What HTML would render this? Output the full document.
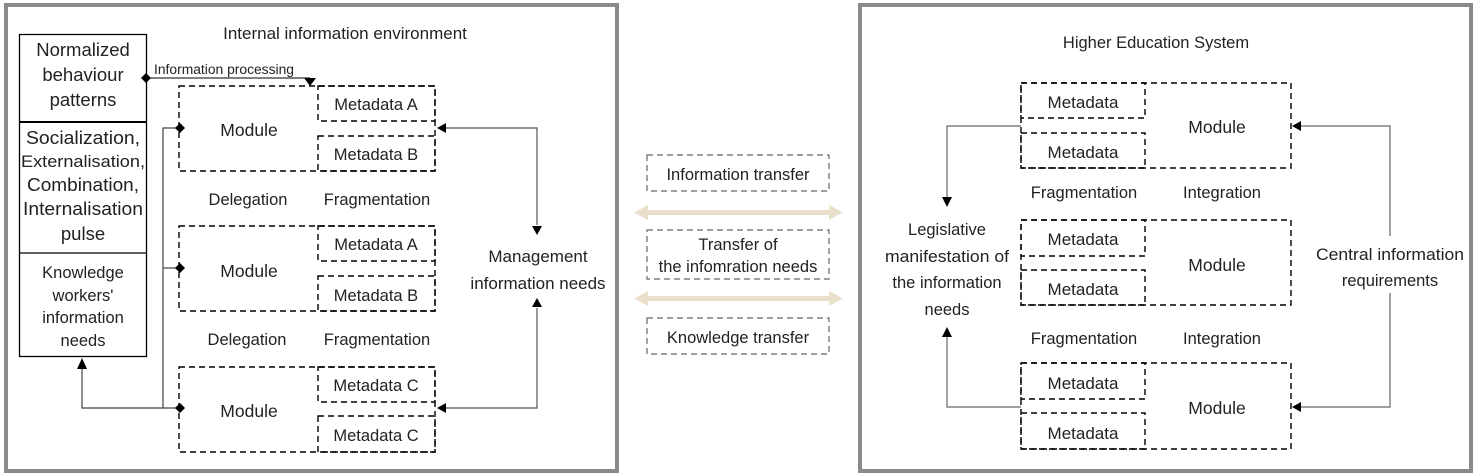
<!DOCTYPE html>
<html><head><meta charset="utf-8"><style>
html,body{margin:0;padding:0;background:#fff;}
svg{display:block;font-family:"Liberation Sans",sans-serif;}
</style></head><body>
<svg width="1474" height="474" viewBox="0 0 1474 474" xmlns="http://www.w3.org/2000/svg">
<rect width="1474" height="474" fill="#fff"/>
<rect x="6" y="5" width="611" height="466" fill="none" stroke="#8a8a8a" stroke-width="4"/>
<rect x="860" y="5" width="611" height="466" fill="none" stroke="#8a8a8a" stroke-width="4"/>

<g fill="#222" text-anchor="middle">
<!-- LEFT PANEL -->
<text x="345" y="39" font-size="17">Internal information environment</text>
<rect x="19.5" y="34.5" width="127" height="322" fill="none" stroke="#000" stroke-width="1.3"/>
<line x1="19" y1="122" x2="147" y2="122" stroke="#000" stroke-width="2"/>
<line x1="19" y1="253" x2="147" y2="253" stroke="#000" stroke-width="1.3"/>
<text x="83" y="56" font-size="18.5">Normalized</text>
<text x="83" y="81" font-size="18.5">behaviour</text>
<text x="83" y="106" font-size="18.5">patterns</text>
<text x="83" y="144" font-size="18.5" textLength="114" lengthAdjust="spacingAndGlyphs">Socialization,</text>
<text x="83" y="167" font-size="16.5" textLength="124" lengthAdjust="spacingAndGlyphs">Externalisation,</text>
<text x="83" y="191" font-size="18.5" textLength="112" lengthAdjust="spacingAndGlyphs">Combination,</text>
<text x="83" y="215" font-size="18.5" textLength="120" lengthAdjust="spacingAndGlyphs">Internalisation</text>
<text x="83" y="240" font-size="18.5">pulse</text>
<text x="83" y="278" font-size="16.5">Knowledge</text>
<text x="83" y="301" font-size="16.5">workers'</text>
<text x="83" y="323" font-size="16.5">information</text>
<text x="83" y="346" font-size="16.5">needs</text>

<line x1="147" y1="78" x2="310" y2="78" stroke="#000" stroke-width="1"/>
<path d="M141,78 L146,73 L151,78 L146,83z" fill="#000"/>
<path d="M304,78 L316,78 L310,86z" fill="#000"/>
<text x="224" y="74" font-size="13.5" textLength="140" lengthAdjust="spacingAndGlyphs">Information processing</text>

<g fill="none" stroke="#000" stroke-width="1.4" stroke-dasharray="6,4">
<rect x="179" y="86" width="256" height="85"/>
<rect x="318" y="86" width="117" height="35"/>
<rect x="318" y="136" width="117" height="35"/>
<rect x="179" y="226" width="256" height="85"/>
<rect x="318" y="226" width="117" height="35"/>
<rect x="318" y="276" width="117" height="35"/>
<rect x="179" y="367" width="256" height="85"/>
<rect x="318" y="367" width="117" height="35"/>
<rect x="318" y="416" width="117" height="36"/>
</g>
<text x="249" y="136" font-size="17.5">Module</text>
<text x="376" y="110" font-size="16.5">Metadata A</text>
<text x="376" y="160" font-size="16.5">Metadata B</text>
<text x="249" y="277" font-size="17.5">Module</text>
<text x="376" y="250" font-size="16.5">Metadata A</text>
<text x="376" y="301" font-size="16.5">Metadata B</text>
<text x="249" y="417" font-size="17.5">Module</text>
<text x="376" y="391" font-size="16.5">Metadata C</text>
<text x="376" y="441" font-size="16.5">Metadata C</text>
<text x="248" y="205" font-size="16.5">Delegation</text>
<text x="377" y="205" font-size="16.5">Fragmentation</text>
<text x="247" y="345" font-size="16.5">Delegation</text>
<text x="377" y="345" font-size="16.5">Fragmentation</text>

<g stroke="#444" stroke-width="1.2" fill="none">
<polyline points="179,128 163,128 163,408 179,408"/>
<line x1="163" y1="268" x2="179" y2="268"/>
<polyline points="163,408 82,408 82,360"/>
</g>
<path d="M77,369 L87,369 L82,358z" fill="#000"/>
<path d="M175,128 L180,123 L185,128 L180,133z" fill="#000"/>
<path d="M175,268 L180,263 L185,268 L180,273z" fill="#000"/>
<path d="M175,408 L180,403 L185,408 L180,413z" fill="#000"/>

<g stroke="#555" stroke-width="1.2" fill="none">
<polyline points="440,128 537,128 537,225"/>
<polyline points="537,308 537,408 440,408"/>
</g>
<path d="M437,128 L446,123 L446,133z" fill="#000"/>
<path d="M437,408 L446,403 L446,413z" fill="#000"/>
<path d="M532,226 L542,226 L537,235z" fill="#000"/>
<path d="M532,307 L542,307 L537,298z" fill="#000"/>
<text x="538" y="262" font-size="17">Management</text>
<text x="538" y="289" font-size="17">information needs</text>

<!-- MIDDLE -->
<g fill="none" stroke="#666" stroke-width="1.2" stroke-dasharray="6,4">
<rect x="647" y="155" width="182" height="36"/>
<rect x="647" y="230" width="182" height="49"/>
<rect x="647" y="318" width="182" height="36"/>
</g>
<text x="738" y="180" font-size="16.5">Information transfer</text>
<text x="738" y="250" font-size="16.5">Transfer of</text>
<text x="738" y="272" font-size="16.5">the infomration needs</text>
<text x="738" y="343" font-size="16.5">Knowledge transfer</text>
<g fill="#e9dfcb">
<rect x="645" y="210" width="186" height="5"/>
<path d="M634,212.5 L648,205 L648,220z"/>
<path d="M843,212.5 L829,205 L829,220z"/>
<rect x="645" y="296" width="186" height="5"/>
<path d="M634,298.5 L648,291 L648,306z"/>
<path d="M843,298.5 L829,291 L829,306z"/>
</g>

<!-- RIGHT PANEL -->
<text x="1156" y="48" font-size="16.5">Higher Education System</text>
<g fill="none" stroke="#000" stroke-width="1.4" stroke-dasharray="6,4">
<rect x="1021" y="83" width="270" height="85"/>
<rect x="1021" y="83" width="124" height="35"/>
<rect x="1021" y="133" width="124" height="35"/>
<rect x="1021" y="220" width="270" height="85"/>
<rect x="1021" y="220" width="124" height="36"/>
<rect x="1021" y="270" width="124" height="35"/>
<rect x="1021" y="363" width="270" height="86"/>
<rect x="1021" y="363" width="124" height="36"/>
<rect x="1021" y="413" width="124" height="36"/>
</g>
<text x="1083" y="108" font-size="17">Metadata</text>
<text x="1083" y="158" font-size="17">Metadata</text>
<text x="1217" y="133" font-size="17.5">Module</text>
<text x="1083" y="245" font-size="17">Metadata</text>
<text x="1083" y="295" font-size="17">Metadata</text>
<text x="1217" y="271" font-size="17.5">Module</text>
<text x="1083" y="389" font-size="17">Metadata</text>
<text x="1083" y="439" font-size="17">Metadata</text>
<text x="1217" y="414" font-size="17.5">Module</text>
<text x="1084" y="198" font-size="16.5">Fragmentation</text>
<text x="1222" y="198" font-size="16.5">Integration</text>
<text x="1084" y="344" font-size="16.5">Fragmentation</text>
<text x="1222" y="344" font-size="16.5">Integration</text>

<g stroke="#666" stroke-width="1.2" fill="none">
<polyline points="1021,126 947,126 947,198"/>
<polyline points="947,336 947,407 1021,407"/>
<polyline points="1297,126 1390,126 1390,236"/>
<polyline points="1390,293 1390,407 1297,407"/>
</g>
<path d="M942,197 L952,197 L947,207z" fill="#000"/>
<path d="M942,337 L952,337 L947,327z" fill="#000"/>
<path d="M1292,126 L1301,121 L1301,131z" fill="#000"/>
<path d="M1292,407 L1301,402 L1301,412z" fill="#000"/>
<text x="947" y="235" font-size="16.5">Legislative</text>
<text x="947" y="262" font-size="16.5" textLength="124" lengthAdjust="spacingAndGlyphs">manifestation of</text>
<text x="947" y="288" font-size="16.5">the information</text>
<text x="947" y="315" font-size="16.5">needs</text>
<text x="1390" y="260" font-size="16.5" textLength="148" lengthAdjust="spacingAndGlyphs">Central information</text>
<text x="1390" y="286" font-size="16.5">requirements</text>
</g>
</svg>
</body></html>
